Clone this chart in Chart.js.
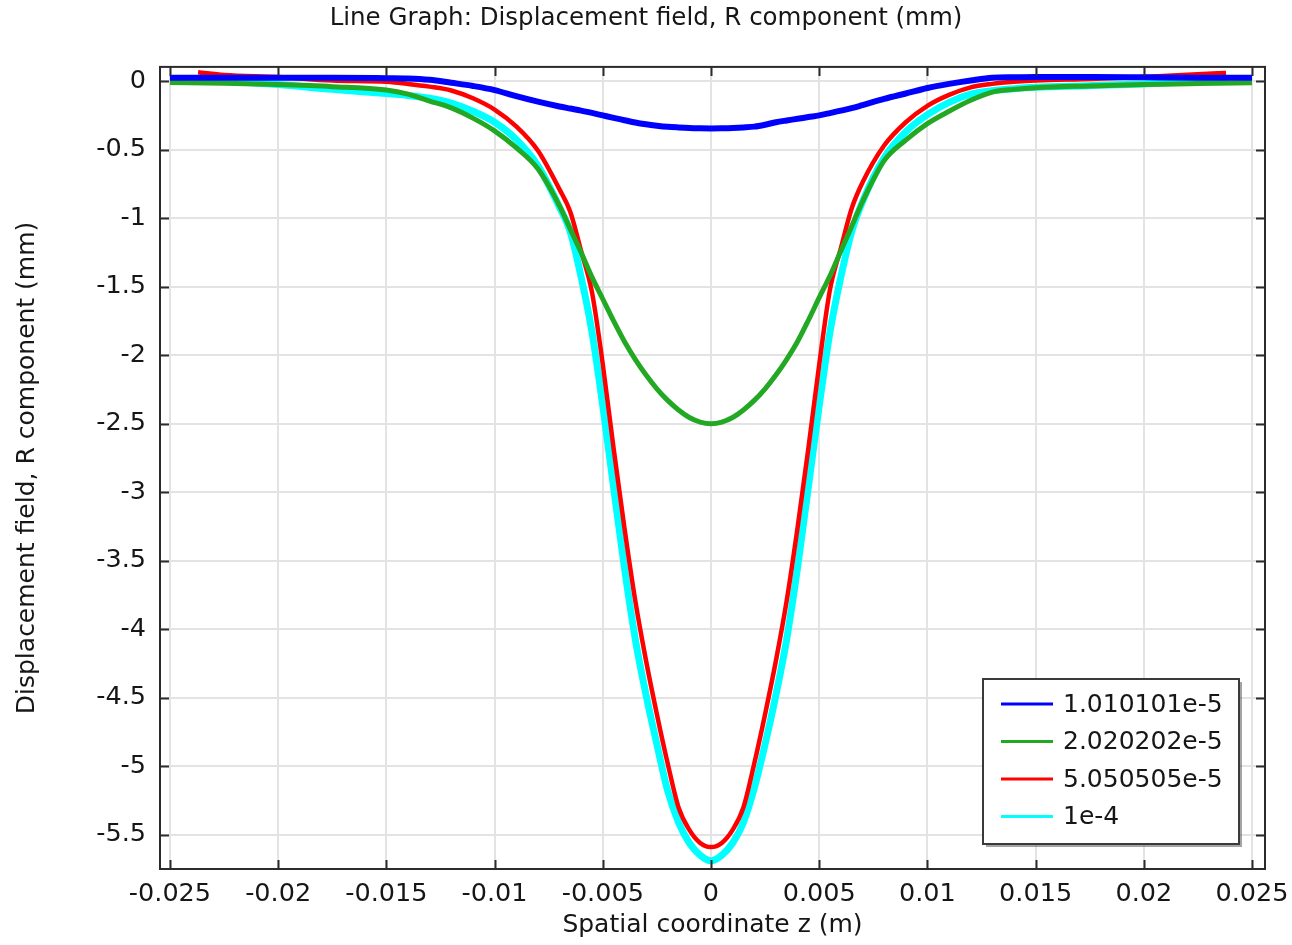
<!DOCTYPE html>
<html>
<head>
<meta charset="utf-8">
<title>Line Graph: Displacement field, R component (mm)</title>
<script src="https://cdn.jsdelivr.net/npm/chart.js@4.4.1/dist/chart.umd.min.js"></script>
<style>
  html, body { margin: 0; padding: 0; background: #ffffff; }
  #wrap { width: 1292px; height: 945px; }
</style>
</head>
<body>
<div id="wrap"><canvas id="chart" width="1292" height="945"></canvas></div>
<script>
// Axial coordinate samples (m)
const zOuter = [-0.025, -0.0225, -0.02, -0.0175, -0.015, -0.014, -0.013, -0.012, -0.011, -0.01,
  -0.009, -0.008, -0.007, -0.0065, -0.006, -0.0055, -0.005, -0.0045, -0.004, -0.0035, -0.003,
  -0.0025, -0.002, -0.0015, -0.001, -0.0005, 0, 0.0005, 0.001, 0.0015, 0.002, 0.0025, 0.003,
  0.0035, 0.004, 0.0045, 0.005, 0.0055, 0.006, 0.0065, 0.007, 0.008, 0.009, 0.01, 0.011, 0.012,
  0.013, 0.014, 0.015, 0.0175, 0.02, 0.0225, 0.025];
const zInner = [-0.0237, -0.0225, -0.02, -0.0175, -0.015, -0.014, -0.013, -0.012, -0.011, -0.01,
  -0.009, -0.008, -0.007, -0.0065, -0.006, -0.0055, -0.005, -0.0045, -0.004, -0.0035, -0.003,
  -0.0025, -0.002, -0.0015, -0.001, -0.0005, 0, 0.0005, 0.001, 0.0015, 0.002, 0.0025, 0.003,
  0.0035, 0.004, 0.0045, 0.005, 0.0055, 0.006, 0.0065, 0.007, 0.008, 0.009, 0.01, 0.011, 0.012,
  0.013, 0.014, 0.015, 0.0175, 0.02, 0.0225, 0.0238];

// Displacement, R component (mm), one list per time value
const uR_1_010101e5 = [0.025, 0.025, 0.025, 0.025, 0.022, 0.02, 0.01, -0.012, -0.035, -0.065,
  -0.11, -0.15, -0.185, -0.2, -0.215, -0.232, -0.25, -0.268, -0.285, -0.302, -0.315,
  -0.325, -0.333, -0.338, -0.342, -0.344, -0.345, -0.344, -0.342, -0.338, -0.332, -0.318, -0.3,
  -0.287, -0.275, -0.262, -0.25, -0.233, -0.215, -0.197, -0.175, -0.13, -0.09, -0.05, -0.02, 0.005,
  0.025, 0.028, 0.03, 0.03, 0.028, 0.025, 0.025];
const uR_2_020202e5 = [-0.01, -0.015, -0.025, -0.04, -0.065, -0.095, -0.145, -0.195, -0.27, -0.363,
  -0.486, -0.64, -0.91, -1.08, -1.25, -1.43, -1.59, -1.75, -1.9, -2.03, -2.145,
  -2.245, -2.33, -2.4, -2.455, -2.488, -2.5, -2.488, -2.455, -2.4, -2.33, -2.245, -2.145,
  -2.03, -1.9, -1.745, -1.58, -1.42, -1.24, -1.06, -0.88, -0.58, -0.43, -0.31, -0.22, -0.14,
  -0.08, -0.06, -0.048, -0.035, -0.025, -0.018, -0.012];
const uR_5_050505e5 = [0.065, 0.045, 0.03, 0.005, -0.005, -0.02, -0.04, -0.068, -0.125, -0.207,
  -0.33, -0.506, -0.79, -0.955, -1.24, -1.54, -2.066, -2.68, -3.26, -3.79, -4.23,
  -4.62, -4.98, -5.3, -5.465, -5.56, -5.59, -5.56, -5.465, -5.3, -4.98, -4.62, -4.23,
  -3.79, -3.26, -2.68, -2.07, -1.52, -1.22, -0.93, -0.74, -0.47, -0.3, -0.18, -0.1, -0.045,
  -0.02, -0.005, 0.005, 0.015, 0.03, 0.05, 0.06];
const uR_1e4 = [0.007, 0.0, -0.025, -0.06, -0.09, -0.104, -0.125, -0.16, -0.22, -0.3,
  -0.426, -0.617, -0.92, -1.1, -1.43, -1.83, -2.37, -2.965, -3.55, -4.07, -4.48,
  -4.84, -5.18, -5.41, -5.56, -5.65, -5.69, -5.65, -5.56, -5.41, -5.16, -4.84, -4.48,
  -4.07, -3.55, -2.96, -2.37, -1.83, -1.43, -1.1, -0.88, -0.56, -0.37, -0.245, -0.155, -0.095,
  -0.07, -0.055, -0.045, -0.033, -0.02, -0.005, 0.005];

const seriesNames = ['1.010101e-5', '2.020202e-5', '5.050505e-5', '1e-4'];
const seriesColors = ['#0000ff', '#22a822', '#ff0000', '#00ffff'];

// Tick positions and labels
const xTicks = [-0.025, -0.02, -0.015, -0.01, -0.005, 0, 0.005, 0.01, 0.015, 0.02, 0.025];
const xTickLabels = ['-0.025', '-0.02', '-0.015', '-0.01', '-0.005', '0', '0.005', '0.01', '0.015', '0.02', '0.025'];
const yTicks = [0, -0.5, -1, -1.5, -2, -2.5, -3, -3.5, -4, -4.5, -5, -5.5];
const yTickLabels = ['0', '-0.5', '-1', '-1.5', '-2', '-2.5', '-3', '-3.5', '-4', '-4.5', '-5', '-5.5'];

const FONT = 'DejaVu Sans';
const TEXT = '#161616';

function pairs(xs, ys) {
  return xs.map((x, i) => ({ x: x, y: ys[i] }));
}

const datasets = [
  { label: seriesNames[0], data: pairs(zOuter, uR_1_010101e5), borderColor: seriesColors[0], borderWidth: 6 },
  { label: seriesNames[1], data: pairs(zOuter, uR_2_020202e5), borderColor: seriesColors[1], borderWidth: 5 },
  { label: seriesNames[2], data: pairs(zInner, uR_5_050505e5), borderColor: seriesColors[2], borderWidth: 4.5 },
  { label: seriesNames[3], data: pairs(zInner, uR_1e4), borderColor: seriesColors[3], borderWidth: 7 }
].map(d => Object.assign(d, {
  pointRadius: 0,
  fill: false,
  cubicInterpolationMode: 'monotone'
}));

// Plot frame with inward tick marks on all four sides
const framePlugin = {
  id: 'frame',
  afterDraw(chart) {
    const { ctx, chartArea: a, scales } = chart;
    ctx.save();
    ctx.strokeStyle = '#2b2b2b';
    ctx.lineWidth = 2;
    ctx.strokeRect(a.left, a.top, a.right - a.left, a.bottom - a.top);
    const len = 9;
    ctx.beginPath();
    xTicks.forEach(v => {
      const px = Math.round(scales.x.getPixelForValue(v)) + 0.5;
      ctx.moveTo(px, a.bottom); ctx.lineTo(px, a.bottom - len);
      ctx.moveTo(px, a.top); ctx.lineTo(px, a.top + len);
    });
    yTicks.forEach(v => {
      const py = Math.round(scales.y.getPixelForValue(v)) + 0.5;
      ctx.moveTo(a.left, py); ctx.lineTo(a.left + len, py);
      ctx.moveTo(a.right, py); ctx.lineTo(a.right - len, py);
    });
    ctx.stroke();
    ctx.restore();
  }
};

// Boxed legend in the lower right corner of the plot
const legendBoxPlugin = {
  id: 'legendBox',
  afterDraw(chart) {
    const { ctx, chartArea: a } = chart;
    const w = 256, h = 165;
    const x0 = a.right - 26 - w;
    const y0 = a.bottom - 25 - h;
    ctx.save();
    ctx.fillStyle = 'rgba(90,90,90,0.55)';
    ctx.fillRect(x0 + 3, y0 + 3, w, h);
    ctx.fillStyle = '#ffffff';
    ctx.fillRect(x0, y0, w, h);
    ctx.strokeStyle = '#3a3a3a';
    ctx.lineWidth = 2;
    ctx.strokeRect(x0, y0, w, h);
    ctx.font = '25px "' + FONT + '"';
    ctx.textBaseline = 'middle';
    ctx.textAlign = 'left';
    chart.data.datasets.forEach((ds, i) => {
      const cy = y0 + 25 + i * 37.5;
      ctx.strokeStyle = ds.borderColor;
      ctx.lineWidth = 3;
      ctx.beginPath();
      ctx.moveTo(x0 + 18, cy);
      ctx.lineTo(x0 + 70, cy);
      ctx.stroke();
      ctx.fillStyle = TEXT;
      ctx.fillText(ds.label, x0 + 80, cy + 1);
    });
    ctx.restore();
  }
};

new Chart(document.getElementById('chart'), {
  type: 'line',
  data: { datasets: datasets },
  options: {
    responsive: false,
    animation: false,
    layout: { padding: { left: 0, right: 0, top: 0, bottom: 0 } },
    plugins: {
      legend: { display: false },
      tooltip: { enabled: false },
      title: {
        display: true,
        text: 'Line Graph: Displacement field, R component (mm)',
        color: TEXT,
        font: { family: FONT, size: 24.5, weight: 'normal', lineHeight: 1.2 },
        padding: { top: 3.5, bottom: 34 }
      }
    },
    scales: {
      x: {
        type: 'linear',
        min: -0.02546,
        max: 0.0256,
        afterBuildTicks(scale) { scale.ticks = xTicks.map(v => ({ value: v })); },
        afterFit(scale) {
          scale.height = 76;
          scale.paddingLeft = 0;
          scale.paddingRight = 27;
        },
        ticks: {
          color: TEXT,
          font: { family: FONT, size: 25.5 },
          padding: 10,
          maxRotation: 0,
          autoSkip: false,
          callback: (v, i) => xTickLabels[i]
        },
        grid: { color: '#e3e3e3', lineWidth: 2, drawTicks: false },
        border: { display: false },
        title: {
          display: true,
          text: 'Spatial coordinate z (m)',
          color: TEXT,
          font: { family: FONT, size: 25, lineHeight: 1.2 },
          padding: { top: 0, bottom: 5 }
        }
      },
      y: {
        type: 'linear',
        min: -5.75,
        max: 0.104,
        afterBuildTicks(scale) { scale.ticks = yTicks.map(v => ({ value: v })); },
        afterFit(scale) {
          scale.width = 160;
          scale.paddingTop = 0;
          scale.paddingBottom = 0;
        },
        ticks: {
          color: TEXT,
          font: { family: FONT, size: 25.5 },
          padding: 14,
          autoSkip: false,
          callback: (v, i) => yTickLabels[i]
        },
        grid: { color: '#e3e3e3', lineWidth: 2, drawTicks: false },
        border: { display: false },
        title: {
          display: true,
          text: 'Displacement field, R component (mm)',
          color: TEXT,
          font: { family: FONT, size: 25, lineHeight: 1.2 },
          padding: { top: 12, bottom: 0 }
        }
      }
    }
  },
  plugins: [framePlugin, legendBoxPlugin]
});
</script>
</body>
</html>
